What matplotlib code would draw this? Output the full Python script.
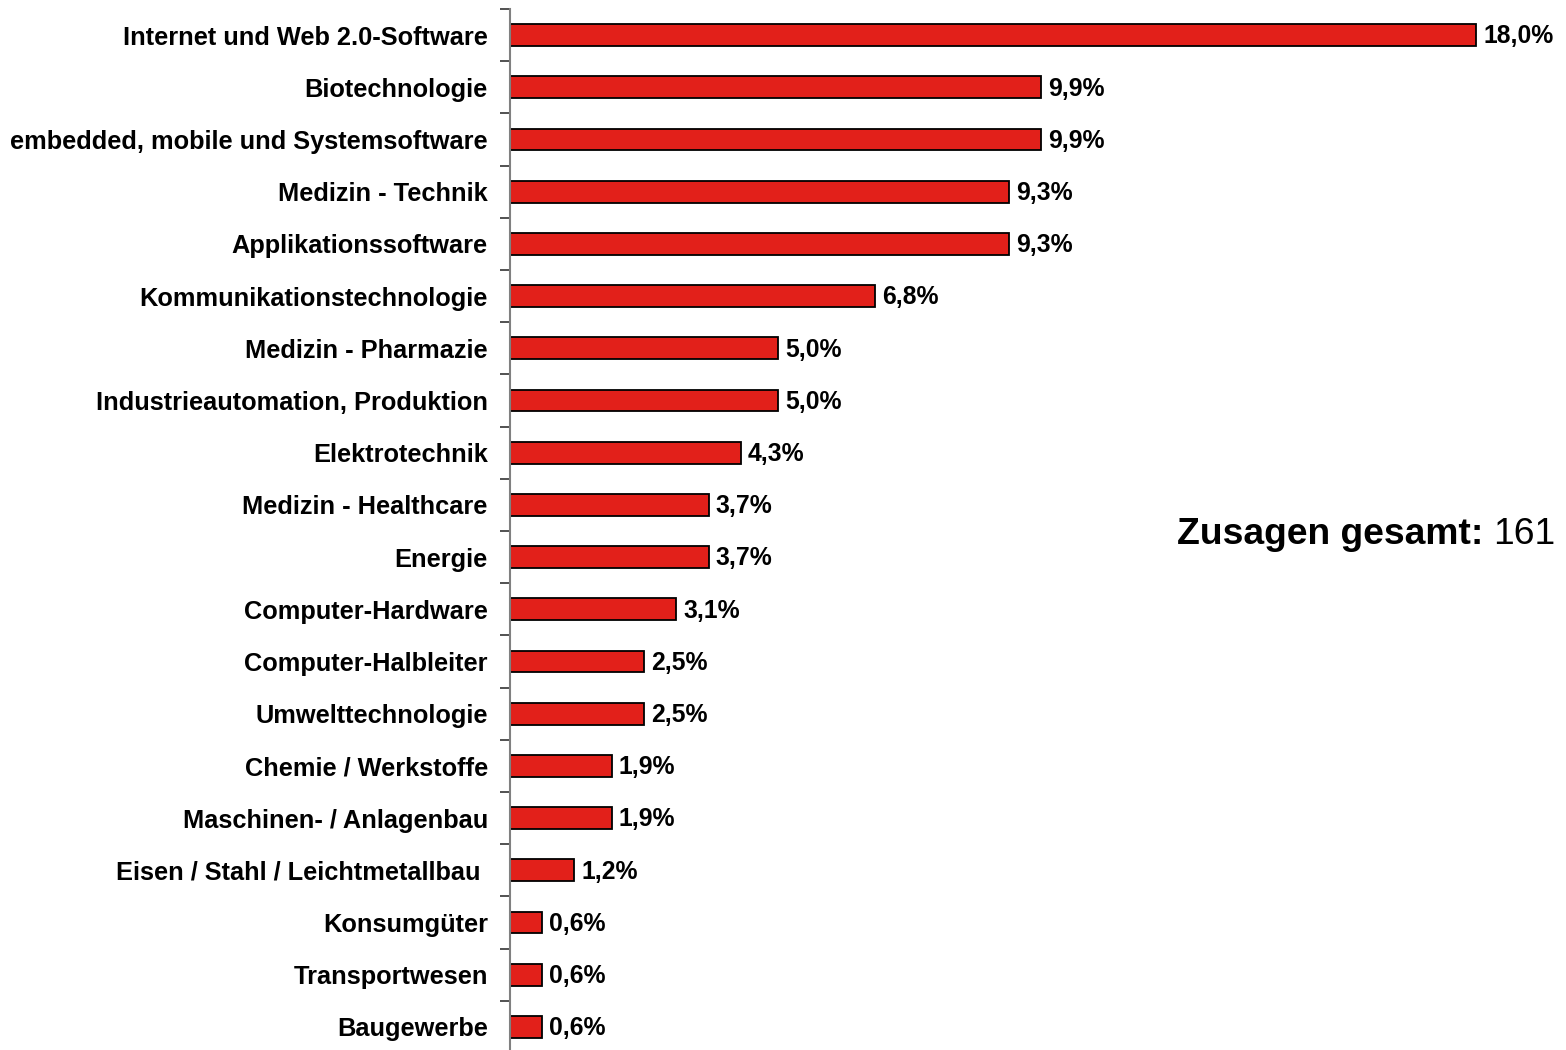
import matplotlib
matplotlib.use("Agg")
import matplotlib.pyplot as plt
from matplotlib.ticker import FixedLocator

categories = [
    "Internet und Web 2.0-Software",
    "Biotechnologie",
    "embedded, mobile und Systemsoftware",
    "Medizin - Technik",
    "Applikationssoftware",
    "Kommunikationstechnologie",
    "Medizin - Pharmazie",
    "Industrieautomation, Produktion",
    "Elektrotechnik",
    "Medizin - Healthcare",
    "Energie",
    "Computer-Hardware",
    "Computer-Halbleiter",
    "Umwelttechnologie",
    "Chemie / Werkstoffe",
    "Maschinen- / Anlagenbau",
    "Eisen / Stahl / Leichtmetallbau ",
    "Konsumgüter",
    "Transportwesen",
    "Baugewerbe",
]
values = [18.0, 9.9, 9.9, 9.3, 9.3, 6.8, 5.0, 5.0, 4.3, 3.7, 3.7, 3.1, 2.5, 2.5, 1.9, 1.9, 1.2, 0.6, 0.6, 0.6]
value_labels = ["18,0%", "9,9%", "9,9%", "9,3%", "9,3%", "6,8%", "5,0%", "5,0%", "4,3%", "3,7%",
                "3,7%", "3,1%", "2,5%", "2,5%", "1,9%", "1,9%", "1,2%", "0,6%", "0,6%", "0,6%"]
total_label = "Zusagen gesamt:"
total_value = "161"

plt.rcParams['font.family'] = ['Liberation Sans', 'DejaVu Sans']

W, H = 1566, 1050
fig = plt.figure(figsize=(W / 100, H / 100), dpi=100)
ax_left = 510 / W
ax_width = 1020 / W
ax_bottom = (H - 1053) / H
ax_top = (H - 9) / H
ax = fig.add_axes([ax_left, ax_bottom, ax_width, ax_top - ax_bottom])

y = list(range(len(categories)))
ax.barh(y, values, height=0.42, color="#E2201A", edgecolor="black", linewidth=1.3, zorder=2)
ax.set_xlim(0, 19)
ax.set_ylim(len(categories) - 0.5, -0.5)

ax.set_yticks(y)
ax.set_yticklabels(categories, fontsize=18.3, fontweight="bold")
ax.tick_params(axis="y", which="major", length=0, pad=16)
ax.yaxis.set_minor_locator(FixedLocator([i - 0.5 for i in range(len(categories) + 1)]))
ax.tick_params(axis="y", which="minor", length=7, width=1.2, color="#333333")
ax.set_xticks([])

for s in ["top", "right", "bottom"]:
    ax.spines[s].set_visible(False)
ax.spines["left"].set_color("#808080")
ax.spines["left"].set_linewidth(1.5)

for yi, v, lab in zip(y, values, value_labels):
    ax.annotate(lab, xy=(v, yi), xytext=(5, -1), textcoords="offset points",
                ha="left", va="center", fontsize=17.8, fontweight="bold", clip_on=False)

t2 = fig.text(1555 / W, (H - 534) / H, total_value, ha="right", va="center", fontsize=26.8)
fig.canvas.draw()
bb = t2.get_window_extent()
fig.text(bb.x0 - 9, (H - 534), total_label, ha="right", va="center", fontsize=26.8,
         fontweight="bold", transform=None)

fig.savefig("out.png", dpi=100)
